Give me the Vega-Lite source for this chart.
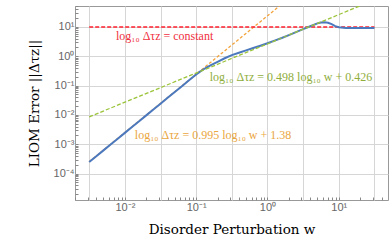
{
  "$schema": "https://vega.github.io/schema/vega-lite/v6.json",
  "width": 313,
  "height": 194,
  "autosize": {"type": "none"},
  "padding": {"left": 75, "top": 6, "right": 2, "bottom": 41},
  "config": {
    "view": {"stroke": "#999", "strokeWidth": 1},
    "axis": {
      "domain": false,
      "grid": true,
      "gridColor": "#d6d6d6",
      "gridWidth": 1,
      "tickSize": -3,
      "tickColor": "#888",
      "labelFont": "Liberation Sans",
      "labelFontSize": 11,
      "labelColor": "#666",
      "labelOverlap": false,
      "labelFlush": false,
      "titleFont": "DejaVu Serif",
      "titleFontSize": 13.5,
      "titleFontWeight": "normal",
      "titleColor": "#000"
    }
  },
  "datasets": {
    "lines": [
      {"series": "data", "x": 0.003162, "y": 0.000248},
      {"series": "data", "x": 0.003981, "y": 0.000393},
      {"series": "data", "x": 0.005012, "y": 0.000621},
      {"series": "data", "x": 0.00631, "y": 0.000982},
      {"series": "data", "x": 0.007943, "y": 0.001552},
      {"series": "data", "x": 0.01, "y": 0.002455},
      {"series": "data", "x": 0.012589, "y": 0.00388},
      {"series": "data", "x": 0.015849, "y": 0.00614},
      {"series": "data", "x": 0.019953, "y": 0.0097},
      {"series": "data", "x": 0.025119, "y": 0.01535},
      {"series": "data", "x": 0.031623, "y": 0.02427},
      {"series": "data", "x": 0.039811, "y": 0.03837},
      {"series": "data", "x": 0.050119, "y": 0.0607},
      {"series": "data", "x": 0.063096, "y": 0.0959},
      {"series": "data", "x": 0.079433, "y": 0.1517},
      {"series": "data", "x": 0.1, "y": 0.2399},
      {"series": "data", "x": 0.1122, "y": 0.295},
      {"series": "data", "x": 0.12589, "y": 0.355},
      {"series": "data", "x": 0.14125, "y": 0.42},
      {"series": "data", "x": 0.15849, "y": 0.49},
      {"series": "data", "x": 0.19953, "y": 0.65},
      {"series": "data", "x": 0.25119, "y": 0.86},
      {"series": "data", "x": 0.31623, "y": 1.1},
      {"series": "data", "x": 0.39811, "y": 1.33},
      {"series": "data", "x": 0.50119, "y": 1.6},
      {"series": "data", "x": 0.63096, "y": 1.92},
      {"series": "data", "x": 0.79433, "y": 2.3},
      {"series": "data", "x": 1.0, "y": 2.78},
      {"series": "data", "x": 1.2589, "y": 3.42},
      {"series": "data", "x": 1.5849, "y": 4.2},
      {"series": "data", "x": 1.9953, "y": 5.3},
      {"series": "data", "x": 2.5119, "y": 6.7},
      {"series": "data", "x": 3.1623, "y": 8.45},
      {"series": "data", "x": 3.9811, "y": 10.6},
      {"series": "data", "x": 5.0119, "y": 13.3},
      {"series": "data", "x": 5.6234, "y": 14.3},
      {"series": "data", "x": 6.3096, "y": 14.5},
      {"series": "data", "x": 7.0795, "y": 14.0},
      {"series": "data", "x": 7.9433, "y": 12.5},
      {"series": "data", "x": 8.9125, "y": 10.7},
      {"series": "data", "x": 10.0, "y": 9.77},
      {"series": "data", "x": 12.589, "y": 9.33},
      {"series": "data", "x": 15.849, "y": 9.23},
      {"series": "data", "x": 19.953, "y": 9.23},
      {"series": "data", "x": 25.119, "y": 9.23},
      {"series": "data", "x": 31.623, "y": 9.2},
      {"series": "orange", "x": 0.003162, "y": 0.000254},
      {"series": "orange", "x": 1.483, "y": 52.5},
      {"series": "green", "x": 0.003162, "y": 0.00863},
      {"series": "green", "x": 19.9, "y": 52.5},
      {"series": "red", "x": 0.003162, "y": 10},
      {"series": "red", "x": 31.623, "y": 10}
    ],
    "labels": [
      {"series": "red", "x": 0.0075, "y": 4.9, "text": "log₁₀ Δτz = constant"},
      {"series": "green", "x": 0.155, "y": 0.195, "text": "log₁₀ Δτz = 0.498 log₁₀ w + 0.426"},
      {"series": "orange", "x": 0.0138, "y": 0.00204, "text": "log₁₀ Δτz = 0.995 log₁₀ w + 1.38"}
    ]
  },
  "encoding": {
    "x": {
      "field": "x",
      "type": "quantitative",
      "scale": {"type": "log", "domain": [0.002, 49], "nice": false},
      "axis": {
        "title": "Disorder  Perturbation w",
        "titlePadding": 10,
        "labelPadding": 4,
        "values": [0.002, 0.003, 0.0031623, 0.004, 0.005, 0.006, 0.007, 0.008, 0.009, 0.01, 0.02, 0.03, 0.031623, 0.04, 0.05, 0.06, 0.07, 0.08, 0.09, 0.1, 0.2, 0.3, 0.31623, 0.4, 0.5, 0.6, 0.7, 0.8, 0.9, 1, 2, 3, 3.1623, 4, 5, 6, 7, 8, 9, 10, 20, 30, 31.623, 40],
        "labelExpr": "(abs(log(datum.value)/LN10 - round(log(datum.value)/LN10)) < 0.001) ? ('10' + (round(log(datum.value)/LN10) < 0 ? '⁻' : '') + substring('⁰¹²³⁴⁵⁶⁷⁸⁹', abs(round(log(datum.value)/LN10)), abs(round(log(datum.value)/LN10)) + 1)) : ''",
        "gridOpacity": {"condition": {"test": "abs(2*log(datum.value)/LN10 - round(2*log(datum.value)/LN10)) < 0.001", "value": 1}, "value": 0},
        "tickOpacity": {"condition": {"test": "abs(datum.value/pow(10, floor(log(datum.value)/LN10 + 0.000001)) - round(datum.value/pow(10, floor(log(datum.value)/LN10 + 0.000001)))) < 0.0001", "value": 1}, "value": 0}
      }
    },
    "y": {
      "field": "y",
      "type": "quantitative",
      "scale": {"type": "log", "domain": [0.0000126, 52], "nice": false},
      "axis": {
        "title": "LIOM Error ||Δτz||",
        "titlePadding": 12,
        "labelPadding": 4,
        "values": [0.00002, 0.00003, 0.00004, 0.00005, 0.00006, 0.00007, 0.00008, 0.00009, 0.0001, 0.0002, 0.0003, 0.0004, 0.0005, 0.0006, 0.0007, 0.0008, 0.0009, 0.001, 0.002, 0.003, 0.004, 0.005, 0.006, 0.007, 0.008, 0.009, 0.01, 0.02, 0.03, 0.04, 0.05, 0.06, 0.07, 0.08, 0.09, 0.1, 0.2, 0.3, 0.4, 0.5, 0.6, 0.7, 0.8, 0.9, 1, 2, 3, 4, 5, 6, 7, 8, 9, 10, 20, 30, 40, 50],
        "labelExpr": "(abs(log(datum.value)/LN10 - round(log(datum.value)/LN10)) < 0.001) ? ('10' + (round(log(datum.value)/LN10) < 0 ? '⁻' : '') + substring('⁰¹²³⁴⁵⁶⁷⁸⁹', abs(round(log(datum.value)/LN10)), abs(round(log(datum.value)/LN10)) + 1)) : ''",
        "gridOpacity": {"condition": {"test": "abs(log(datum.value)/LN10 - round(log(datum.value)/LN10)) < 0.001", "value": 1}, "value": 0}
      }
    }
  },
  "layer": [
    {
      "data": {"name": "lines"},
      "transform": [{"filter": "datum.series === 'orange'"}],
      "mark": {"type": "line", "color": "#f2a33a", "strokeWidth": 1.3, "strokeDash": [3, 2], "clip": true}
    },
    {
      "data": {"name": "lines"},
      "transform": [{"filter": "datum.series === 'red'"}],
      "mark": {"type": "line", "color": "#ff1f2f", "strokeWidth": 1.3, "strokeDash": [4, 2], "clip": true}
    },
    {
      "data": {"name": "lines"},
      "transform": [{"filter": "datum.series === 'data'"}],
      "mark": {"type": "line", "color": "#4c78bd", "strokeWidth": 2, "clip": true}
    },
    {
      "data": {"name": "lines"},
      "transform": [{"filter": "datum.series === 'green'"}],
      "mark": {"type": "line", "color": "#9bc43a", "strokeWidth": 1.3, "strokeDash": [4, 2], "clip": true}
    },
    {
      "data": {"name": "labels"},
      "mark": {"type": "text", "align": "left", "baseline": "middle", "font": "Liberation Serif", "fontSize": 12},
      "encoding": {
        "text": {"field": "text", "type": "nominal"},
        "color": {
          "field": "series",
          "type": "nominal",
          "scale": {"domain": ["red", "green", "orange"], "range": ["#f03040", "#8fae3c", "#eaa640"]},
          "legend": null
        }
      }
    }
  ]
}
